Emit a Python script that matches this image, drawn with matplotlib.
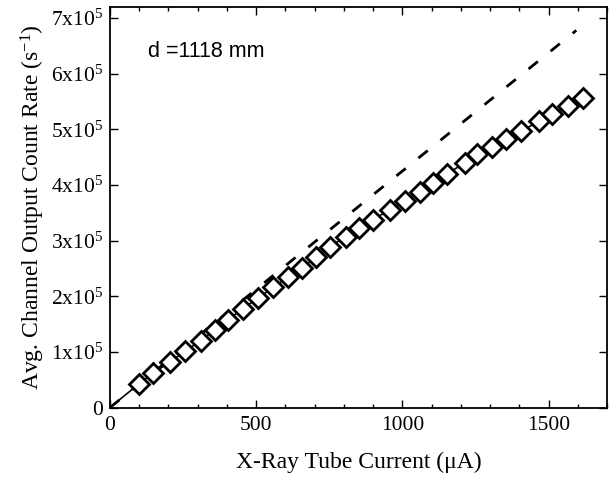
import matplotlib
matplotlib.use("Agg")
import matplotlib.pyplot as plt
from matplotlib.ticker import FixedLocator, FixedFormatter, MultipleLocator

plt.rcParams['font.family'] = ['Liberation Serif', 'DejaVu Serif']
plt.rcParams['mathtext.fontset'] = 'custom'
plt.rcParams['mathtext.rm'] = 'Liberation Serif'
plt.rcParams['mathtext.it'] = 'Liberation Serif:italic'

# measured data (tube current in uA, count rate in s^-1)
current = [100, 148, 205, 256, 310, 359, 404, 455, 507, 558, 609, 655, 706, 751,
           806, 850, 898, 957, 1008, 1059, 1104, 1151, 1213, 1257, 1308, 1356,
           1407, 1469, 1513, 1565, 1617]
rate = [43e3, 62e3, 82e3, 101e3, 120e3, 140e3, 158e3, 178e3, 197e3, 216e3,
        234e3, 251e3, 270e3, 289e3, 307e3, 322e3, 338e3, 355e3, 372e3, 388e3,
        403e3, 419e3, 440e3, 455e3, 468e3, 482e3, 497e3, 515e3, 527e3, 542e3,
        557e3]

# ideal linear response (dashed)
ideal_x = [0, 1595]
ideal_y = [0, 678e3]

yticks = [0, 1e5, 2e5, 3e5, 4e5, 5e5, 6e5, 7e5]
ytick_labels = ['0'] + [r'$\mathregular{%dx10^{5}}$' % i for i in range(1, 8)]
xticks = [0, 500, 1000, 1500]

fig = plt.figure(figsize=(6.16, 4.8), dpi=100)
ax = fig.add_axes([0.1786, 0.151, 0.8068, 0.8344])

ax.plot(ideal_x, ideal_y, color='black', lw=2.0, linestyle=(0, (4.3, 5.9)))
ax.plot([0] + current, [0] + rate, color='black', lw=1.2, marker='D',
        markersize=10, markerfacecolor='white', markeredgecolor='black',
        markeredgewidth=2.0, markevery=slice(1, None))

ax.set_xlim(0, 1700)
ax.set_ylim(0, 7.2e5)
ax.xaxis.set_major_locator(FixedLocator(xticks))
ax.xaxis.set_minor_locator(MultipleLocator(100))
ax.yaxis.set_major_locator(FixedLocator(yticks))
ax.yaxis.set_major_formatter(FixedFormatter(ytick_labels))

ax.tick_params(which='both', direction='in', top=True, right=True, width=1.0,
               labelsize=15.5)
ax.tick_params(which='major', length=6)
ax.tick_params(which='minor', length=3)
ax.tick_params(axis='x', pad=6)
ax.tick_params(axis='y', pad=5)
for s in ax.spines.values():
    s.set_linewidth(1.3)

ax.set_xlabel('X-Ray Tube Current (μA)', fontsize=17, labelpad=12)
ax.set_ylabel(r'Avg. Channel Output Count Rate (s$^{\mathregular{-1}}$)', fontsize=17, labelpad=3)

ax.text(0.0765, 0.888, 'd =1118 mm', transform=ax.transAxes, fontsize=15.5,
        family=['Liberation Sans', 'DejaVu Sans'], va='center', ha='left')

fig.savefig('out.png', dpi=100)
